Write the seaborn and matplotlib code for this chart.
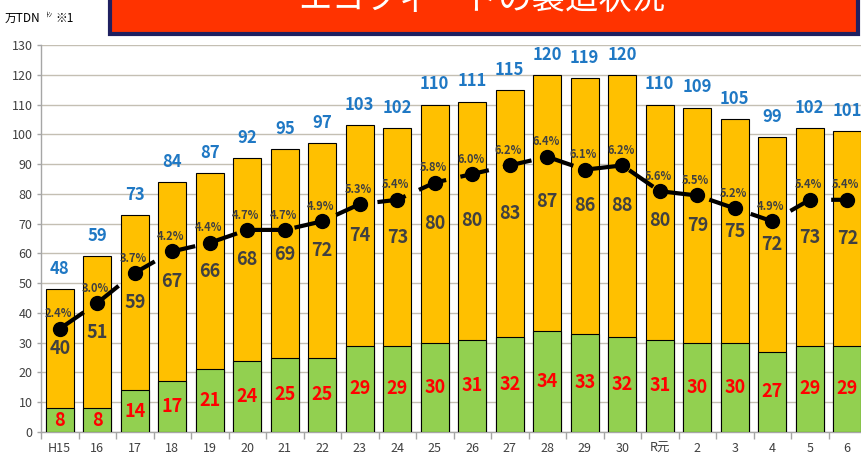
import numpy as np
import pandas as pd
import seaborn as sns
import matplotlib.pyplot as plt
from matplotlib.patches import Rectangle

# data
years = ['H15', '16', '17', '18', '19', '20', '21', '22', '23', '24', '25',
         '26', '27', '28', '29', '30', 'R元', '2', '3', '4', '5', '6']
totals = [48, 59, 73, 84, 87, 92, 95, 97, 103, 102, 110,
          111, 115, 120, 119, 120, 110, 109, 105, 99, 102, 101]
other = [40, 51, 59, 67, 66, 68, 69, 72, 74, 73, 80,
         80, 83, 87, 86, 88, 80, 79, 75, 72, 73, 72]
ecofeed = [8, 8, 14, 17, 21, 24, 25, 25, 29, 29, 30,
           31, 32, 34, 33, 32, 31, 30, 30, 27, 29, 29]
share = [2.4, 3.0, 3.7, 4.2, 4.4, 4.7, 4.7, 4.9, 5.3, 5.4, 5.8,
         6.0, 6.2, 6.4, 6.1, 6.2, 5.6, 5.5, 5.2, 4.9, 5.4, 5.4]

df = pd.DataFrame({'year': years, 'total': totals, 'other': other,
                   'eco': ecofeed, 'share': share})

sns.set_style('white')
plt.rcParams['font.family'] = ['Noto Sans CJK JP', 'DejaVu Sans']

W, H = 861, 461
fig = plt.figure(figsize=(W / 100, H / 100), dpi=100)
# plot area runs past the right edge of the picture, as in the reference
ax = fig.add_axes([41 / W, 29 / H, 825 / W, 387 / H])

sns.barplot(data=df, x='year', y='total', color='#FFC000', saturation=1,
            width=0.75, edgecolor='black', linewidth=0.8, ax=ax, zorder=2)
sns.barplot(data=df, x='year', y='eco', color='#92D050', saturation=1,
            width=0.75, edgecolor='black', linewidth=0.8, ax=ax, zorder=3)

ax.set_ylim(0, 130)
ax.set_xlim(-0.5, 21.5)
ax.set_yticks(range(0, 131, 10))
ax.set_axisbelow(True)
ax.yaxis.grid(True, color='#C4BFB3', lw=1)
ax.xaxis.grid(False)
ax.set_xlabel('')
ax.set_ylabel('')
for s in ['top', 'right']:
    ax.spines[s].set_visible(False)
for s in ['left', 'bottom']:
    ax.spines[s].set_color('#A6A6A6')
    ax.spines[s].set_linewidth(1)
ax.tick_params(axis='y', length=3, width=1, color='#A6A6A6', pad=3,
               labelsize=9, labelcolor='#404040', left=True)
ax.tick_params(axis='x', which='major', length=0, pad=7, labelsize=9,
               labelcolor='#404040')
ax.set_xticks(np.arange(-0.5, 22, 1), minor=True)
ax.tick_params(axis='x', which='minor', length=5, width=1, color='#A6A6A6',
               bottom=True)

# value labels
for i in range(len(years)):
    ax.annotate(str(totals[i]), (i, totals[i]), xytext=(0, 8),
                textcoords='offset points', ha='center', va='bottom',
                fontsize=12, fontweight='bold', color='#1F78C4')
    ax.text(i, ecofeed[i] + other[i] / 2, str(other[i]), ha='center',
            va='center', fontsize=13, fontweight='bold', color='#404040',
            zorder=6)
    ax.text(i, ecofeed[i] / 2, str(ecofeed[i]), ha='center', va='center',
            fontsize=13, fontweight='bold', color='#FF0000', zorder=6)

ax.annotate('(概算)', (21, 0), xytext=(0, -24), textcoords='offset points',
            ha='center', va='top', fontsize=7, color='#404040',
            annotation_clip=False)

# share line on a hidden secondary scale
ax2 = ax.twinx()
ax2.set_ylim(0, 9)
ax2.plot(range(len(years)), share, color='black', lw=3,
         dashes=(7, 3.5), marker='o', markersize=10, zorder=5)
for i, p in enumerate(share):
    ax2.annotate(f'{p:.1f}%', (i, p), xytext=(-1, 6),
                 textcoords='offset points', ha='center', va='bottom',
                 fontsize=8, fontweight='bold', color='#404040')
ax2.axis('off')

# unit label
fig.text(5 / W, 1 - 18 / H, '万TDN', fontsize=8.5, va='center', color='black')
fig.text(45 / W, 1 - 15 / H, 'ﾄﾝ', fontsize=5, va='center', color='black')
fig.text(55 / W, 1 - 18 / H, '※1', fontsize=8.5, va='center', color='black')

# title banner, cut off at the top of the picture
fig.patches.append(Rectangle((110 / W, 1 - 34 / H), 748 / W, 60 / H,
                             transform=fig.transFigure, facecolor='#FF3300',
                             edgecolor='#1F2060', linewidth=3, zorder=10))
fig.text(482 / W, 1 + 1 / H, 'エコフィードの製造状況', ha='center',
         va='center', fontsize=24, color='white', zorder=11)

fig.savefig('out.png', dpi=100)
